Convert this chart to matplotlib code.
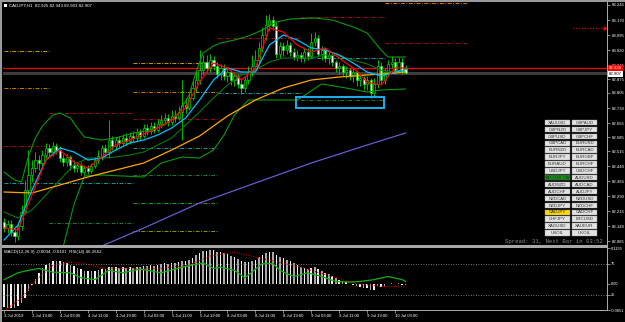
import matplotlib
matplotlib.use('Agg')
import matplotlib.pyplot as plt
import numpy as np
from matplotlib.patches import Rectangle
from matplotlib.transforms import blended_transform_factory

# ---------------- data ----------------
opens = [82.160, 82.130, 82.150, 82.110, 82.090, 82.140, 82.210, 82.320, 82.395, 82.430,
         82.470, 82.455, 82.495, 82.530, 82.510, 82.540, 82.520, 82.480, 82.460, 82.485,
         82.445, 82.430, 82.445, 82.410, 82.430, 82.415, 82.440, 82.470, 82.490, 82.530,
         82.510, 82.570, 82.540, 82.570, 82.555, 82.580, 82.565, 82.590, 82.580, 82.610,
         82.590, 82.630, 82.615, 82.640, 82.620, 82.650, 82.670, 82.680, 82.660, 82.690,
         82.680, 82.710, 82.745, 82.730, 82.780, 82.830, 82.870, 82.920, 82.960, 82.930,
         82.970, 82.940, 82.900, 82.930, 82.890, 82.910, 82.870, 82.890, 82.850, 82.830,
         82.870, 82.910, 82.940, 82.970, 83.030, 83.095, 83.145, 83.170, 83.140, 83.000,
         83.040, 83.020, 83.045, 83.010, 82.985, 82.995, 82.980, 83.010, 82.990, 83.060,
         83.080, 83.000, 83.020, 82.980, 82.995, 82.960, 82.930, 82.940, 82.910, 82.920,
         82.890, 82.910, 82.870, 82.880, 82.850, 82.870, 82.805, 82.850, 82.940, 82.870,
         82.910, 82.950, 82.960, 82.920, 82.960, 82.925]
closes = [82.130, 82.150, 82.110, 82.090, 82.140, 82.210, 82.320, 82.395, 82.430, 82.470,
          82.455, 82.495, 82.530, 82.510, 82.540, 82.520, 82.480, 82.460, 82.485, 82.445,
          82.430, 82.445, 82.410, 82.430, 82.415, 82.440, 82.470, 82.490, 82.530, 82.510,
          82.570, 82.540, 82.570, 82.555, 82.580, 82.565, 82.590, 82.580, 82.610, 82.590,
          82.630, 82.615, 82.640, 82.620, 82.650, 82.670, 82.680, 82.660, 82.690, 82.680,
          82.710, 82.745, 82.730, 82.780, 82.830, 82.870, 82.920, 82.960, 82.930, 82.970,
          82.940, 82.900, 82.930, 82.890, 82.910, 82.870, 82.890, 82.850, 82.830, 82.870,
          82.910, 82.940, 82.970, 83.030, 83.095, 83.145, 83.170, 83.140, 83.000, 83.040,
          83.020, 83.045, 83.010, 82.985, 82.995, 82.980, 83.010, 82.990, 83.060, 83.080,
          83.000, 83.020, 82.980, 82.995, 82.960, 82.930, 82.940, 82.910, 82.920, 82.890,
          82.910, 82.870, 82.880, 82.850, 82.870, 82.805, 82.850, 82.940, 82.870, 82.910,
          82.950, 82.960, 82.920, 82.960, 82.915, 82.907]
highs = [82.180, 82.170, 82.170, 82.130, 82.160, 82.245, 82.370, 82.520, 82.470, 82.510,
         82.495, 82.520, 82.555, 82.550, 82.560, 82.555, 82.540, 82.500, 82.500, 82.495,
         82.470, 82.460, 82.460, 82.445, 82.445, 82.455, 82.485, 82.520, 82.545, 82.550,
         82.670, 82.590, 82.585, 82.590, 82.600, 82.605, 82.610, 82.615, 82.630, 82.625,
         82.650, 82.650, 82.660, 82.660, 82.675, 82.695, 82.705, 82.700, 82.720, 82.720,
         82.740, 82.870, 82.780, 82.810, 82.870, 82.920, 83.020, 82.995, 82.995, 83.000,
         82.990, 82.960, 82.950, 82.950, 82.930, 82.920, 82.910, 82.900, 82.880, 82.890,
         82.940, 82.995, 83.020, 83.060, 83.135, 83.195, 83.200, 83.190, 83.160, 83.060,
         83.060, 83.070, 83.060, 83.030, 83.020, 83.010, 83.030, 83.030, 83.105, 83.110,
         83.095, 83.040, 83.030, 83.020, 83.010, 82.970, 82.960, 82.950, 82.940, 82.930,
         82.930, 82.920, 82.900, 82.890, 82.890, 82.880, 82.880, 82.970, 82.960, 82.930,
         82.970, 82.990, 82.980, 82.985, 82.980, 82.943]
lows = [82.110, 82.105, 82.090, 82.060, 82.070, 82.120, 82.200, 82.295, 82.360, 82.410,
        82.420, 82.440, 82.480, 82.490, 82.490, 82.500, 82.460, 82.440, 82.440, 82.420,
        82.410, 82.410, 82.395, 82.395, 82.400, 82.405, 82.430, 82.455, 82.470, 82.485,
        82.480, 82.520, 82.520, 82.535, 82.540, 82.545, 82.550, 82.560, 82.565, 82.570,
        82.580, 82.595, 82.600, 82.605, 82.610, 82.630, 82.650, 82.640, 82.645, 82.660,
        82.670, 82.570, 82.705, 82.720, 82.770, 82.810, 82.850, 82.900, 82.910, 82.910,
        82.920, 82.880, 82.870, 82.870, 82.860, 82.845, 82.840, 82.830, 82.800, 82.810,
        82.850, 82.890, 82.920, 82.950, 83.010, 83.070, 83.120, 83.120, 82.980, 82.980,
        82.990, 83.000, 82.990, 82.970, 82.965, 82.960, 82.960, 82.970, 82.980, 83.040,
        82.990, 82.970, 82.960, 82.950, 82.940, 82.910, 82.900, 82.890, 82.880, 82.870,
        82.860, 82.840, 82.840, 82.820, 82.820, 82.780, 82.790, 82.830, 82.850, 82.850,
        82.890, 82.930, 82.900, 82.910, 82.900, 82.903]

# fast MA (red) and medium MA (cyan), sampled
ma_bars = [0, 4, 8, 12, 16, 20, 24, 28, 32, 36, 40, 44, 48, 52, 56, 60, 64, 68, 72, 76,
           80, 84, 88, 92, 96, 100, 104, 108, 112, 115]
ma_red = [82.130, 82.120, 82.295, 82.470, 82.520, 82.460, 82.430, 82.485, 82.545, 82.570,
          82.600, 82.630, 82.670, 82.730, 82.860, 82.955, 82.930, 82.870, 82.930, 83.130,
          83.110, 83.045, 83.010, 83.030, 82.980, 82.930, 82.860, 82.845, 82.930, 82.930]
ma_cyan = [82.070, 82.145, 82.320, 82.470, 82.530, 82.510, 82.470, 82.480, 82.520, 82.555,
           82.570, 82.595, 82.630, 82.680, 82.770, 82.870, 82.930, 82.910, 82.910, 83.045,
           83.095, 83.070, 83.030, 83.020, 82.995, 82.955, 82.910, 82.890, 82.910, 82.920]
orange_bars = [0, 8, 16, 24, 32, 40, 48, 56, 64, 72, 80, 88, 96, 104, 112, 115]
ma_orange = [82.310, 82.305, 82.345, 82.385, 82.420, 82.455, 82.520, 82.590, 82.690, 82.770,
             82.830, 82.870, 82.885, 82.895, 82.905, 82.910]
purple_bars = [28, 40, 56, 72, 88, 104, 115]
ma_purple = [82.040, 82.130, 82.255, 82.355, 82.455, 82.545, 82.605]

bb_up_bars = [0, 3, 5, 7, 9, 11, 14, 16, 19, 21, 23, 28, 33, 37, 42, 46, 50, 53, 55, 57,
              60, 62, 66, 70, 74, 78, 82, 89, 94, 100, 104, 108, 110, 115]
bb_up = [82.410, 82.370, 82.360, 82.490, 82.580, 82.640, 82.695, 82.705, 82.680, 82.630,
         82.585, 82.570, 82.585, 82.605, 82.620, 82.645, 82.705, 82.795, 82.910, 83.005,
         83.040, 83.055, 83.070, 83.090, 83.120, 83.160, 83.175, 83.180, 83.170, 83.135,
         83.105, 83.020, 82.985, 82.985]
bb_lo_bars = [0, 8, 14, 17, 18, 20, 23, 28, 40, 45, 51, 56, 60, 63, 66, 70, 77, 84, 91, 98,
              104, 108, 115]
bb_lo = [81.995, 81.850, 81.900, 82.040, 82.110, 82.245, 82.390, 82.395, 82.385, 82.455,
         82.485, 82.480, 82.520, 82.595, 82.695, 82.770, 82.770, 82.770, 82.850, 82.830,
         82.810, 82.820, 82.825]
bb_mid = [82.210, 82.180, 82.220, 82.295, 82.370, 82.445, 82.480, 82.480, 82.485, 82.495,
          82.510, 82.545, 82.580, 82.645, 82.710, 82.780, 82.845, 82.895, 82.920, 82.960,
          82.980, 82.980, 82.980, 82.995, 82.990, 82.970, 82.950, 82.920, 82.910, 82.905]

# daily pivot levels (None = not visible)
day_start = [0, 13, 37, 61, 85, 109]
day_end = [13, 37, 61, 85, 109, 133]
piv_r3 = [83.015, None, 82.955, None, None, None]
piv_r2 = [82.830, 82.905, 82.810, None, None, 83.255]
piv_r1 = [82.540, 82.705, 82.675, 83.080, 83.185, 83.055]
piv_pp = [82.355, 82.355, 82.530, 82.805, 82.980, 82.910]
piv_s1 = [None, 82.155, 82.395, None, 82.770, None]
piv_s2 = [None, None, 82.255, None, None, None]
piv_s3 = [None, None, 82.115, None, None, None]

macd = [-0.075, -0.078, -0.080, -0.078, -0.072, -0.062, -0.045, -0.025, -0.005, 0.015,
        0.035, 0.050, 0.060, 0.068, 0.073, 0.075, 0.074, 0.070, 0.068, 0.062,
        0.058, 0.052, 0.046, 0.042, 0.040, 0.040, 0.042, 0.045, 0.048, 0.048,
        0.055, 0.053, 0.054, 0.052, 0.053, 0.052, 0.053, 0.052, 0.055, 0.054,
        0.058, 0.057, 0.060, 0.058, 0.062, 0.065, 0.066, 0.064, 0.067, 0.066,
        0.069, 0.072, 0.072, 0.077, 0.084, 0.092, 0.100, 0.106, 0.107, 0.110,
        0.108, 0.104, 0.103, 0.098, 0.096, 0.090, 0.087, 0.080, 0.073, 0.070,
        0.071, 0.074, 0.078, 0.085, 0.093, 0.100, 0.104, 0.103, 0.092, 0.086,
        0.082, 0.078, 0.072, 0.066, 0.060, 0.055, 0.052, 0.048, 0.052, 0.053,
        0.046, 0.042, 0.036, 0.032, 0.025, 0.018, 0.013, 0.008, 0.004, -0.002,
        -0.003, -0.008, -0.010, -0.014, -0.015, -0.022, -0.020, -0.008, -0.010, -0.008,
        -0.002, 0.002, -0.002, 0.001, -0.004, -0.0034]
sig_bars = [0, 5, 9, 14, 19, 23, 28, 39, 45, 53, 59, 66, 76, 85, 95, 101, 108, 115]
macd_signal = [-0.088, -0.046, 0.010, 0.060, 0.069, 0.066, 0.050, 0.050, 0.050, 0.060,
               0.089, 0.102, 0.076, 0.053, 0.020, 0.0004, -0.009, -0.0101]
rsi_bars = [0, 4, 7, 10, 14, 19, 22, 26, 30, 34, 39, 45, 51, 57, 60, 62, 66, 69, 74, 77,
            79, 83, 87, 91, 95, 99, 102, 106, 110, 114, 115]
rsi = [49, 60, 64, 67, 61, 60, 52, 49, 64, 60, 66, 60, 69, 76, 67, 69, 64, 52, 75, 75,
       64, 54, 60, 54, 46, 45, 46, 49, 54, 49, 46.27]

price_ticks = [83.245, 83.170, 83.095, 83.020, 82.945, 82.875, 82.805, 82.730, 82.655,
               82.585, 82.515, 82.440, 82.365, 82.290, 82.215, 82.140, 82.065]
time_tick_bars = [0, 8, 16, 24, 32, 40, 48, 56, 64, 72, 80, 88, 96, 104, 112]
time_labels = ['3 Jul 2019', '3 Jul 19:00', '4 Jul 03:00', '4 Jul 11:00', '4 Jul 19:00',
               '5 Jul 03:00', '5 Jul 11:00', '5 Jul 19:00', '8 Jul 03:00', '8 Jul 11:00',
               '8 Jul 19:00', '9 Jul 03:00', '9 Jul 11:00', '9 Jul 19:00', '10 Jul 03:00']
ask_price = 82.930
bid_price = 82.907
alert_price = 83.130
alert_bars = [163, 172]
box_bars = [83.6, 108.8]
box_prices = [82.730, 82.785]

symbols_left = ['XAUUSD', 'GBPNZD', 'GBPUSD', 'GBPCAD', 'EURNZD', 'EURJPY', 'EURAUD', 'USDJPY',
                'USDCAD', 'AUDNZD', 'AUDCHF', 'NZDCAD', 'NZDJPY', 'CADJPY', 'CHFJPY', 'XAGUSD', 'USOIL']
symbols_right = ['GBPAUD', 'GBPJPY', 'GBPCHF', 'EURUSD', 'EURCAD', 'EURGBP', 'EURCHF', 'USDCHF',
                 'AUDUSD', 'AUDCAD', 'AUDJPY', 'NZDUSD', 'NZDCHF', 'CADCHF', 'BTCUSD', 'XAUEUR', 'UKOIL']

# ---------------- figure ----------------
W, H = 625, 322
plt.rcParams['font.family'] = ['Liberation Sans', 'DejaVu Sans']
fig = plt.figure(figsize=(W / 100, H / 100), dpi=100, facecolor='black')


def rect(x0, y0, x1, y1):
    return [x0 / W, 1 - y1 / H, (x1 - x0) / W, (y1 - y0) / H]


ax = fig.add_axes(rect(3, 3, 607, 245))
axs = fig.add_axes(rect(3, 248, 607, 310))
axr = axs.twinx()
for a in (ax, axs, axr):
    a.set_facecolor('black')
    for s in a.spines.values():
        s.set_visible(False)
axr.patch.set_visible(False)

XL = (-0.3, 172.7)
ax.set_xlim(*XL)
axs.set_xlim(*XL)
ax.set_ylim(82.045, 83.255)

n = len(closes)
idx = np.arange(n)
o = np.array(opens); c = np.array(closes); h = np.array(highs); l = np.array(lows)

# pivot lines
piv_style = (0, (4, 1.5, 1, 1.5))
piv_sets = [(piv_r3, '#c89a00'), (piv_r2, '#d07a00'), (piv_r1, '#9a1010'),
            (piv_pp, '#1a9a9a'), (piv_s1, '#1a7a3a'), (piv_s2, '#2a9a2a'), (piv_s3, '#8a9a10')]
for levels, col in piv_sets:
    for d0, d1, v in zip(day_start, day_end, levels):
        if v is not None:
            ax.plot([d0, d1], [v, v], color=col, lw=0.7, ls=piv_style, zorder=1)

# ask / bid lines
ax.axhline(bid_price, color='#3c3c3c', lw=2.2, zorder=1)
ax.axhline(ask_price, color='#ff0000', lw=0.9, zorder=2)

# candles
wick_col = '#00d800'
ax.vlines(idx, l, h, color=wick_col, lw=0.6, zorder=3)
body_b = np.minimum(o, c)
body_h = np.maximum(np.abs(c - o), 0.002)
up = c >= o
ax.bar(idx[up], body_h[up], bottom=body_b[up], width=0.62, color='black',
       edgecolor=wick_col, lw=0.5, zorder=4)
ax.bar(idx[~up], body_h[~up], bottom=body_b[~up], width=0.62, color='white',
       edgecolor=wick_col, lw=0.5, zorder=4)

# indicators
ax.plot(bb_up_bars, bb_up, color='#0a9a0a', lw=0.8, zorder=5)
ax.plot(bb_lo_bars, bb_lo, color='#0a9a0a', lw=0.8, zorder=5)
ax.plot(ma_bars, bb_mid, color='#0a7a0a', lw=0.8, zorder=5)
ax.plot(purple_bars, ma_purple, color='#6a5acd', lw=0.9, zorder=5)
ax.plot(orange_bars, ma_orange, color='#ffa500', lw=0.9, zorder=6)
ax.plot(ma_bars, ma_cyan, color='#00bfff', lw=0.9, zorder=6)
ax.plot(ma_bars, ma_red, color='#ff0000', lw=0.9, zorder=7)

# alert line with arrow and highlight box
ax.plot(alert_bars, [alert_price, alert_price], color='#e00000', lw=0.8, ls=(0, (1, 1.5)), zorder=6)
ax.plot([alert_bars[1]], [alert_price], marker='>', ms=2.2, color='#e00000', zorder=6)
ax.add_patch(Rectangle((box_bars[0], box_prices[0]), box_bars[1] - box_bars[0],
                       box_prices[1] - box_prices[0], fill=False, ec='#1ab0f0', lw=1.4, zorder=8))

# price axis
ax.yaxis.tick_right()
ax.set_yticks(price_ticks)
ax.set_yticklabels([f'{v:.3f}' for v in price_ticks])
ax.tick_params(axis='y', colors='#bdbdbd', labelcolor='white', labelsize=3.1,
               length=2, width=0.5, pad=1.2)
ax.set_xticks([])
tr = blended_transform_factory(ax.transAxes, ax.transData)
ax.text(1.003, ask_price, f'{ask_price:.3f}', transform=tr, fontsize=3.1, color='white',
        va='center', ha='left', zorder=20, clip_on=False,
        bbox=dict(boxstyle='square,pad=0.25', fc='#ff0000', ec='none'))
ax.text(1.003, bid_price - 0.008, f'{bid_price:.3f}', transform=tr, fontsize=3.1, color='black',
        va='center', ha='left', zorder=20, clip_on=False,
        bbox=dict(boxstyle='square,pad=0.25', fc='white', ec='none'))

# sub window
axs.set_ylim(-0.0851, 0.1155)
axr.set_ylim(0, 100)
hist_cols = ['#f2f2f2' if i % 2 == 0 else '#a8a8a8' for i in range(n)]
axs.bar(idx, macd, width=0.45, color=hist_cols, zorder=2)
axs.plot(sig_bars, macd_signal, color='#c00000', lw=0.8, ls=(0, (1, 1.2)), zorder=3)
axr.axhline(75, color='#9a9a9a', lw=0.6, ls=(0, (1, 2)))
axr.axhline(25, color='#9a9a9a', lw=0.6, ls=(0, (1, 2)))
axr.plot(rsi_bars, rsi, color='#10b010', lw=0.9, zorder=4)
axs.yaxis.tick_right()
axs.set_yticks([0.1155, 0.0, -0.0851])
axs.set_yticklabels(['0.1155', '0.00', '-0.0851'])
axr.set_yticks([75, 25])
axr.set_yticklabels(['75', '25'])
for a in (axs, axr):
    a.tick_params(axis='y', colors='#bdbdbd', labelcolor='white', labelsize=2.9,
                  length=2, width=0.5, pad=1.0)
axs.set_xticks(time_tick_bars)
axs.set_xticklabels(time_labels, ha='left')
axs.tick_params(axis='x', colors='#bdbdbd', labelcolor='white', labelsize=3.1,
                length=2, width=0.5, pad=1.2)

# ---------------- overlay (frame, labels, buttons) ----------------
ov = fig.add_axes([0, 0, 1, 1])
ov.set_xlim(0, W)
ov.set_ylim(H, 0)
ov.axis('off')
ov.patch.set_visible(False)
ov.set_zorder(10)

frame = '#a8a8a8'
ov.add_patch(Rectangle((0, 0), W, 2, color='#9a9a9a', lw=0))
ov.add_patch(Rectangle((0, 0), 2, H, color='#9a9a9a', lw=0))
ov.add_patch(Rectangle((2, 245), 605, 2.6, color=frame, lw=0))
ov.add_patch(Rectangle((606.6, 2), 1.0, 309, color=frame, lw=0))
ov.add_patch(Rectangle((2, 310), 605.6, 1.0, color=frame, lw=0))

ov.add_patch(Rectangle((4, 4), 2.5, 2.5, color='white', lw=0))
ov.text(9, 5.3, 'CADJPY,H1  82.925 82.943 82.903 82.907', fontsize=3.2, color='white',
        va='center', ha='left')
ov.text(4, 251.5, 'MACD(12,26,9) -0.0034 -0.0101  RSI(14) 46.2662', fontsize=3.2,
        color='white', va='center', ha='left')
ov.text(603, 241.5, 'Spread: 31, Next Bar in 03:52', fontsize=4.1, color='#8c8c8c',
        family='Liberation Mono', va='center', ha='right')

# symbol buttons
bx = [545, 572]
bw, bh, top0, step = 25, 5.4, 119.8, 6.9
for col, names in enumerate((symbols_left, symbols_right)):
    for r, name in enumerate(names):
        y0 = top0 + r * step
        fc, tc = '#e2e2e2', '#303030'
        if name == 'USDCAD':
            fc, tc = '#0a6a0a', '#2faa2f'
        elif name == 'CADJPY':
            fc, tc = '#ffd800', '#202020'
        ov.add_patch(Rectangle((bx[col], y0), bw, bh, fc=fc, ec='#9a9a9a', lw=0.3))
        ov.text(bx[col] + bw / 2, y0 + bh / 2 + 0.2, name, fontsize=3.2, color=tc,
                ha='center', va='center')

fig.savefig('out.png', dpi=100, facecolor='black')
